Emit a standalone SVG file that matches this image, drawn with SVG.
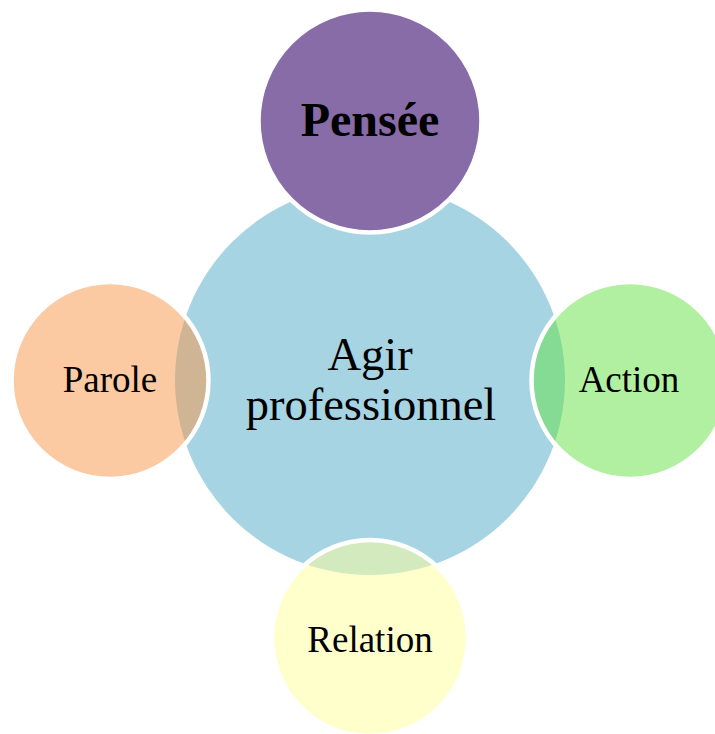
<svg xmlns="http://www.w3.org/2000/svg" width="715" height="734" viewBox="0 0 715 734">
<style>
text{font-family:"Liberation Serif","Times New Roman",serif;fill:#000;text-anchor:middle}
.sat{stroke:#fff;stroke-width:4.5}
.small{font-size:37px}
</style>
<rect width="715" height="734" fill="#fff"/>
<g id="center">
<circle cx="370" cy="380" r="195" fill="#a6d4e2"/>
<text x="370" y="370" font-size="46.5">Agir</text>
<text x="371" y="420" font-size="46.5">professionnel</text>
</g>
<g id="connectors"/>
<g id="pensee">
<circle class="sat" cx="370" cy="121" r="111.5" fill="#876ca8"/>
<text x="370" y="136" font-size="48" font-weight="bold">Pensée</text>
</g>
<g id="parole">
<circle class="sat" cx="110" cy="380.5" r="98.5" fill="#f79545" fill-opacity="0.5"/>
<text class="small" x="110" y="392">Parole</text>
</g>
<g id="action">
<circle class="sat" cx="630" cy="380.5" r="98.5" fill="#63e143" fill-opacity="0.5"/>
<text class="small" x="629" y="392">Action</text>
</g>
<g id="relation">
<circle class="sat" cx="370" cy="638" r="98" fill="#ffff99" fill-opacity="0.5"/>
<text class="small" x="370" y="651.5">Relation</text>
</g>
</svg>
